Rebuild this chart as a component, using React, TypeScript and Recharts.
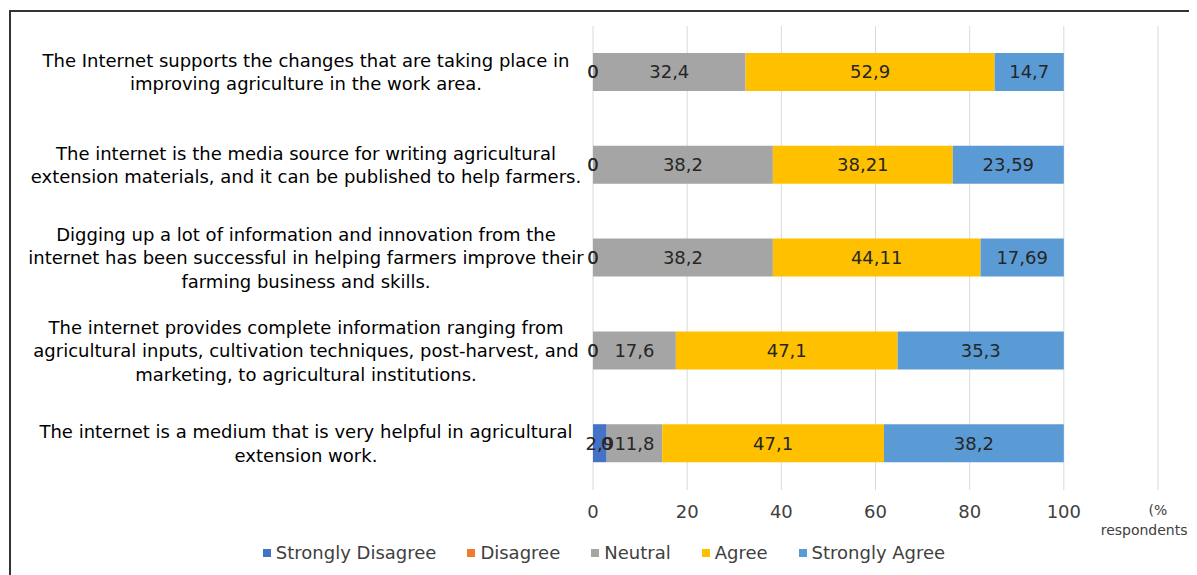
import { BarChart, Bar, XAxis, YAxis, CartesianGrid, Legend, LabelList } from "recharts";

const categories = [
  "The Internet supports the changes that are taking place in\nimproving agriculture in the work area.",
  "The internet is the media source for writing agricultural\nextension materials, and it can be published to help farmers.",
  "Digging up a lot of information and innovation from the\ninternet has been successful in helping farmers improve their\nfarming business and skills.",
  "The internet provides complete information ranging from\nagricultural inputs, cultivation techniques, post-harvest, and\nmarketing, to agricultural institutions.",
  "The internet is a medium that is very helpful in agricultural\nextension work.",
];
const stronglyDisagree = [0, 0, 0, 0, 2.9];
const disagree = [0, 0, 0, 0, 0];
const neutral = [32.4, 38.2, 38.2, 17.6, 11.8];
const agree = [52.9, 38.21, 44.11, 47.1, 47.1];
const stronglyAgree = [14.7, 23.59, 17.69, 35.3, 38.2];
const xTicks = [0, 20, 40, 60, 80, 100, 120];

const series = [
  { key: "sd", name: "Strongly Disagree", color: "#4472C4", values: stronglyDisagree },
  { key: "d", name: "Disagree", color: "#ED7D31", values: disagree },
  { key: "n", name: "Neutral", color: "#A5A5A5", values: neutral },
  { key: "a", name: "Agree", color: "#FFC000", values: agree },
  { key: "sa", name: "Strongly Agree", color: "#5B9BD5", values: stronglyAgree },
];

const data = categories.map((name, i) => {
  const row: Record<string, string | number> = { name };
  series.forEach((s) => (row[s.key] = s.values[i]));
  return row;
});

const FONT = "'DejaVu Sans', sans-serif";
const fmt = (v: any) => String(v).replace(".", ",");

const YTick = (props: any) => {
  const { x, y, payload } = props;
  const lines = String(payload.value).split("\n");
  const lh = 23.5;
  const start = -((lines.length - 1) * lh) / 2;
  return (
    <text x={x - 279} y={y} textAnchor="middle" fill="#000" fontSize={18} fontFamily={FONT}>
      {lines.map((l, i) => (
        <tspan key={i} x={x - 279} y={y + start + i * lh} dy="0.35em">
          {l}
        </tspan>
      ))}
    </text>
  );
};

const XTick = (props: any) => {
  const { x, y, payload } = props;
  if (payload.value === 120) {
    return (
      <text x={x} y={y} fill="#404040" fontSize={14} fontFamily={FONT}>
        <tspan x={x} y={y + 17} textAnchor="middle">(%</tspan>
        <tspan x={x + 35} y={y + 37} textAnchor="end">respondents)</tspan>
      </text>
    );
  }
  return (
    <text x={x} y={y + 20} textAnchor="middle" fill="#404040" fontSize={18} fontFamily={FONT}>
      {payload.value}
    </text>
  );
};

const BarLabel = (props: any) => {
  const { x, y, width, height, value } = props;
  if (value === undefined || value === null) return null;
  return (
    <text
      x={x + width / 2}
      y={y + height / 2}
      dy="0.36em"
      textAnchor="middle"
      fill="#262626"
      fontSize={18}
      fontFamily={FONT}
    >
      {fmt(value)}
    </text>
  );
};

const LegendContent = () => (
  <div style={{ display: "flex", justifyContent: "center", fontFamily: FONT, fontSize: 18, color: "#404040" }}>
    {series.map((s, i) => (
      <div key={s.key} style={{ display: "flex", alignItems: "center", marginLeft: i ? 31 : 0 }}>
        <span style={{ width: 8, height: 8, background: s.color, display: "inline-block", marginRight: 5 }} />
        <span>{s.name}</span>
      </div>
    ))}
  </div>
);

const App = () => {
  return (
    <div style={{ marginTop: 2, marginLeft: 1, borderTop: "2px solid #333", borderLeft: "2px solid #333", width: 1186, height: 563, background: "#fff" }}>
      <BarChart
        width={1186}
        height={563}
        data={data}
        layout="vertical"
        margin={{ top: 14, right: 39, bottom: 0, left: 0 }}
        barSize={38}
      >
        <CartesianGrid horizontal={false} stroke="#d9d9d9" />
        <XAxis
          type="number"
          domain={[0, 120]}
          ticks={xTicks}
          axisLine={false}
          tickLine={false}
          tick={<XTick />}
          height={64}
          interval={0}
        />
        <YAxis
          type="category"
          dataKey="name"
          width={582}
          axisLine={false}
          tickLine={false}
          tick={<YTick />}
          interval={0}
        />
        <Legend content={<LegendContent />} wrapperStyle={{ top: 530, left: 0, width: 1186 }} />
        {series.map((s) => (
          <Bar
            key={s.key}
            dataKey={s.key}
            name={s.name}
            stackId="a"
            fill={s.color}
            minPointSize={0.01}
            isAnimationActive={false}
          >
            <LabelList dataKey={s.key} content={<BarLabel />} />
          </Bar>
        ))}
      </BarChart>
    </div>
  );
};

export default App;
